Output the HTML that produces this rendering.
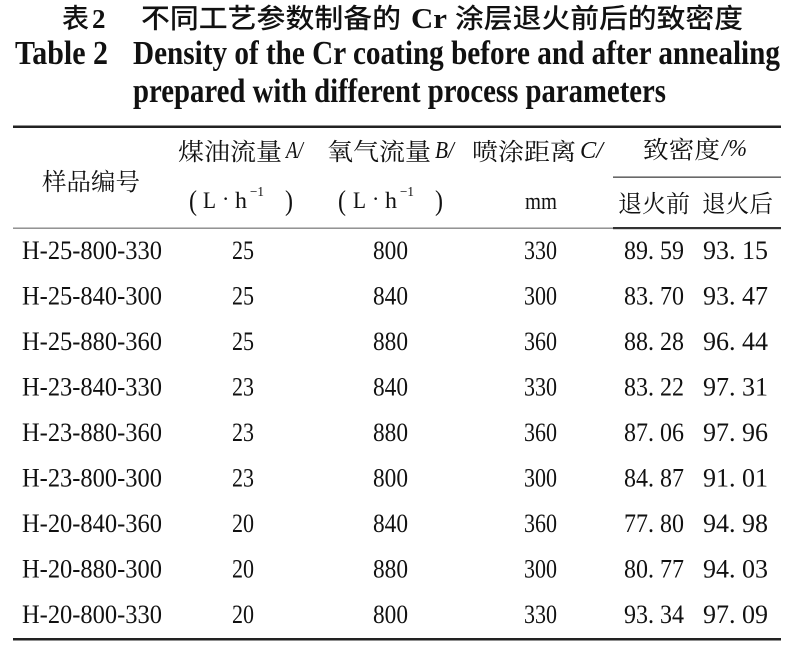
<!DOCTYPE html>
<html>
<head>
<meta charset="utf-8">
<style>
html,body{margin:0;padding:0;background:#fff;}
svg{display:block;}
.t{font-family:"Liberation Serif","Noto Serif CJK SC",serif;fill:#111;}
.b{font-weight:bold;}
.hs{font-family:"Liberation Sans","Noto Sans CJK SC",sans-serif;fill:#111;font-weight:500;}
.cj{font-family:"Liberation Serif","Noto Serif CJK SC",serif;fill:#111;}
.it{font-style:italic;}
</style>
</head>
<body>
<svg width="794" height="652" viewBox="0 0 794 652" xmlns="http://www.w3.org/2000/svg">
<!-- Title line 1 -->
<text class="hs" x="62" y="28" font-size="27" textLength="27" lengthAdjust="spacingAndGlyphs">表</text>
<text class="t b" x="92" y="28" font-size="27">2</text>
<text class="hs" x="141" y="28" font-size="27" textLength="260" lengthAdjust="spacingAndGlyphs">不同工艺参数制备的</text>
<text class="t b" x="411" y="28" font-size="28" textLength="36" lengthAdjust="spacingAndGlyphs">Cr</text>
<text class="hs" x="455" y="28" font-size="27" textLength="288" lengthAdjust="spacingAndGlyphs">涂层退火前后的致密度</text>
<!-- Title line 2 -->
<text class="t b" x="15" y="64" font-size="34" textLength="93" lengthAdjust="spacingAndGlyphs">Table 2</text>
<text class="t b" x="133" y="64" font-size="34" textLength="647" lengthAdjust="spacingAndGlyphs">Density of the Cr coating before and after annealing</text>
<!-- Title line 3 -->
<text class="t b" x="133" y="102" font-size="34" textLength="533" lengthAdjust="spacingAndGlyphs">prepared with different process parameters</text>

<!-- Rules -->
<rect x="13" y="125.5" width="768" height="2.5" fill="#222"/>
<rect x="613" y="176.5" width="168" height="1.3" fill="#444"/>
<rect x="13" y="227.5" width="600" height="1.4" fill="#888"/>
<rect x="613" y="227" width="168" height="2.2" fill="#333"/>
<rect x="13" y="638" width="768" height="2.5" fill="#222"/>

<!-- Header -->
<text class="cj" x="42" y="190" font-size="24" textLength="98" lengthAdjust="spacingAndGlyphs">样品编号</text>

<text class="cj" x="178" y="160" font-size="24" textLength="104" lengthAdjust="spacingAndGlyphs">煤油流量</text>
<text class="t it" x="286" y="158" font-size="24" textLength="17" lengthAdjust="spacingAndGlyphs">A/</text>
<text class="cj" x="327" y="160" font-size="24" textLength="104" lengthAdjust="spacingAndGlyphs">氧气流量</text>
<text class="t it" x="435" y="158" font-size="24" textLength="19" lengthAdjust="spacingAndGlyphs">B/</text>
<text class="cj" x="472" y="160" font-size="24" textLength="104" lengthAdjust="spacingAndGlyphs">喷涂距离</text>
<text class="t it" x="580" y="158" font-size="24" textLength="23" lengthAdjust="spacingAndGlyphs">C/</text>
<text class="cj" x="643" y="158" font-size="24" textLength="77" lengthAdjust="spacingAndGlyphs">致密度</text>
<text class="t it" x="722" y="156" font-size="24" textLength="25" lengthAdjust="spacingAndGlyphs">/%</text>

<!-- (L·h-1) #1 -->
<text class="t" x="189" y="210" font-size="28" textLength="8" lengthAdjust="spacingAndGlyphs">(</text>
<text class="t" x="203" y="208" font-size="23" textLength="13" lengthAdjust="spacingAndGlyphs">L</text>
<text class="t" x="222" y="206" font-size="22">·</text>
<text class="t" x="235" y="208" font-size="23" textLength="12" lengthAdjust="spacingAndGlyphs">h</text>
<text class="t" x="250" y="196" font-size="14" textLength="14" lengthAdjust="spacingAndGlyphs">−1</text>
<text class="t" x="285" y="210" font-size="28" textLength="8" lengthAdjust="spacingAndGlyphs">)</text>
<!-- (L·h-1) #2 -->
<text class="t" x="338" y="210" font-size="28" textLength="8" lengthAdjust="spacingAndGlyphs">(</text>
<text class="t" x="353" y="208" font-size="23" textLength="13" lengthAdjust="spacingAndGlyphs">L</text>
<text class="t" x="372" y="206" font-size="22">·</text>
<text class="t" x="385" y="208" font-size="23" textLength="12" lengthAdjust="spacingAndGlyphs">h</text>
<text class="t" x="400" y="196" font-size="14" textLength="14" lengthAdjust="spacingAndGlyphs">−1</text>
<text class="t" x="435" y="210" font-size="28" textLength="8" lengthAdjust="spacingAndGlyphs">)</text>

<text class="t" x="525" y="209" font-size="24" textLength="32" lengthAdjust="spacingAndGlyphs">mm</text>
<text class="cj" x="618" y="212" font-size="24" textLength="72" lengthAdjust="spacingAndGlyphs">退火前</text>
<text class="cj" x="702" y="212" font-size="24" textLength="71" lengthAdjust="spacingAndGlyphs">退火后</text>

<!-- Data rows -->
<g>
<text class="t" x="22" y="259" font-size="26" textLength="140" lengthAdjust="spacingAndGlyphs">H-25-800-330</text>
<text class="t" x="232" y="259" font-size="26" textLength="22" lengthAdjust="spacingAndGlyphs">25</text>
<text class="t" x="373" y="259" font-size="26" textLength="35" lengthAdjust="spacingAndGlyphs">800</text>
<text class="t" x="524" y="259" font-size="26" textLength="33" lengthAdjust="spacingAndGlyphs">330</text>
<text class="t" x="624" y="259" font-size="26" textLength="60" lengthAdjust="spacingAndGlyphs">89. 59</text>
<text class="t" x="703" y="259" font-size="26" textLength="65" lengthAdjust="spacingAndGlyphs">93. 15</text>

<text class="t" x="22" y="304.5" font-size="26" textLength="140" lengthAdjust="spacingAndGlyphs">H-25-840-300</text>
<text class="t" x="232" y="304.5" font-size="26" textLength="22" lengthAdjust="spacingAndGlyphs">25</text>
<text class="t" x="373" y="304.5" font-size="26" textLength="35" lengthAdjust="spacingAndGlyphs">840</text>
<text class="t" x="524" y="304.5" font-size="26" textLength="33" lengthAdjust="spacingAndGlyphs">300</text>
<text class="t" x="624" y="304.5" font-size="26" textLength="60" lengthAdjust="spacingAndGlyphs">83. 70</text>
<text class="t" x="703" y="304.5" font-size="26" textLength="65" lengthAdjust="spacingAndGlyphs">93. 47</text>

<text class="t" x="22" y="350" font-size="26" textLength="140" lengthAdjust="spacingAndGlyphs">H-25-880-360</text>
<text class="t" x="232" y="350" font-size="26" textLength="22" lengthAdjust="spacingAndGlyphs">25</text>
<text class="t" x="373" y="350" font-size="26" textLength="35" lengthAdjust="spacingAndGlyphs">880</text>
<text class="t" x="524" y="350" font-size="26" textLength="33" lengthAdjust="spacingAndGlyphs">360</text>
<text class="t" x="624" y="350" font-size="26" textLength="60" lengthAdjust="spacingAndGlyphs">88. 28</text>
<text class="t" x="703" y="350" font-size="26" textLength="65" lengthAdjust="spacingAndGlyphs">96. 44</text>

<text class="t" x="22" y="395.5" font-size="26" textLength="140" lengthAdjust="spacingAndGlyphs">H-23-840-330</text>
<text class="t" x="232" y="395.5" font-size="26" textLength="22" lengthAdjust="spacingAndGlyphs">23</text>
<text class="t" x="373" y="395.5" font-size="26" textLength="35" lengthAdjust="spacingAndGlyphs">840</text>
<text class="t" x="524" y="395.5" font-size="26" textLength="33" lengthAdjust="spacingAndGlyphs">330</text>
<text class="t" x="624" y="395.5" font-size="26" textLength="60" lengthAdjust="spacingAndGlyphs">83. 22</text>
<text class="t" x="703" y="395.5" font-size="26" textLength="65" lengthAdjust="spacingAndGlyphs">97. 31</text>

<text class="t" x="22" y="441" font-size="26" textLength="140" lengthAdjust="spacingAndGlyphs">H-23-880-360</text>
<text class="t" x="232" y="441" font-size="26" textLength="22" lengthAdjust="spacingAndGlyphs">23</text>
<text class="t" x="373" y="441" font-size="26" textLength="35" lengthAdjust="spacingAndGlyphs">880</text>
<text class="t" x="524" y="441" font-size="26" textLength="33" lengthAdjust="spacingAndGlyphs">360</text>
<text class="t" x="624" y="441" font-size="26" textLength="60" lengthAdjust="spacingAndGlyphs">87. 06</text>
<text class="t" x="703" y="441" font-size="26" textLength="65" lengthAdjust="spacingAndGlyphs">97. 96</text>

<text class="t" x="22" y="486.5" font-size="26" textLength="140" lengthAdjust="spacingAndGlyphs">H-23-800-300</text>
<text class="t" x="232" y="486.5" font-size="26" textLength="22" lengthAdjust="spacingAndGlyphs">23</text>
<text class="t" x="373" y="486.5" font-size="26" textLength="35" lengthAdjust="spacingAndGlyphs">800</text>
<text class="t" x="524" y="486.5" font-size="26" textLength="33" lengthAdjust="spacingAndGlyphs">300</text>
<text class="t" x="624" y="486.5" font-size="26" textLength="60" lengthAdjust="spacingAndGlyphs">84. 87</text>
<text class="t" x="703" y="486.5" font-size="26" textLength="65" lengthAdjust="spacingAndGlyphs">91. 01</text>

<text class="t" x="22" y="532" font-size="26" textLength="140" lengthAdjust="spacingAndGlyphs">H-20-840-360</text>
<text class="t" x="232" y="532" font-size="26" textLength="22" lengthAdjust="spacingAndGlyphs">20</text>
<text class="t" x="373" y="532" font-size="26" textLength="35" lengthAdjust="spacingAndGlyphs">840</text>
<text class="t" x="524" y="532" font-size="26" textLength="33" lengthAdjust="spacingAndGlyphs">360</text>
<text class="t" x="624" y="532" font-size="26" textLength="60" lengthAdjust="spacingAndGlyphs">77. 80</text>
<text class="t" x="703" y="532" font-size="26" textLength="65" lengthAdjust="spacingAndGlyphs">94. 98</text>

<text class="t" x="22" y="577.5" font-size="26" textLength="140" lengthAdjust="spacingAndGlyphs">H-20-880-300</text>
<text class="t" x="232" y="577.5" font-size="26" textLength="22" lengthAdjust="spacingAndGlyphs">20</text>
<text class="t" x="373" y="577.5" font-size="26" textLength="35" lengthAdjust="spacingAndGlyphs">880</text>
<text class="t" x="524" y="577.5" font-size="26" textLength="33" lengthAdjust="spacingAndGlyphs">300</text>
<text class="t" x="624" y="577.5" font-size="26" textLength="60" lengthAdjust="spacingAndGlyphs">80. 77</text>
<text class="t" x="703" y="577.5" font-size="26" textLength="65" lengthAdjust="spacingAndGlyphs">94. 03</text>

<text class="t" x="22" y="623" font-size="26" textLength="140" lengthAdjust="spacingAndGlyphs">H-20-800-330</text>
<text class="t" x="232" y="623" font-size="26" textLength="22" lengthAdjust="spacingAndGlyphs">20</text>
<text class="t" x="373" y="623" font-size="26" textLength="35" lengthAdjust="spacingAndGlyphs">800</text>
<text class="t" x="524" y="623" font-size="26" textLength="33" lengthAdjust="spacingAndGlyphs">330</text>
<text class="t" x="624" y="623" font-size="26" textLength="60" lengthAdjust="spacingAndGlyphs">93. 34</text>
<text class="t" x="703" y="623" font-size="26" textLength="65" lengthAdjust="spacingAndGlyphs">97. 09</text>
</g>
</svg>
</body>
</html>
